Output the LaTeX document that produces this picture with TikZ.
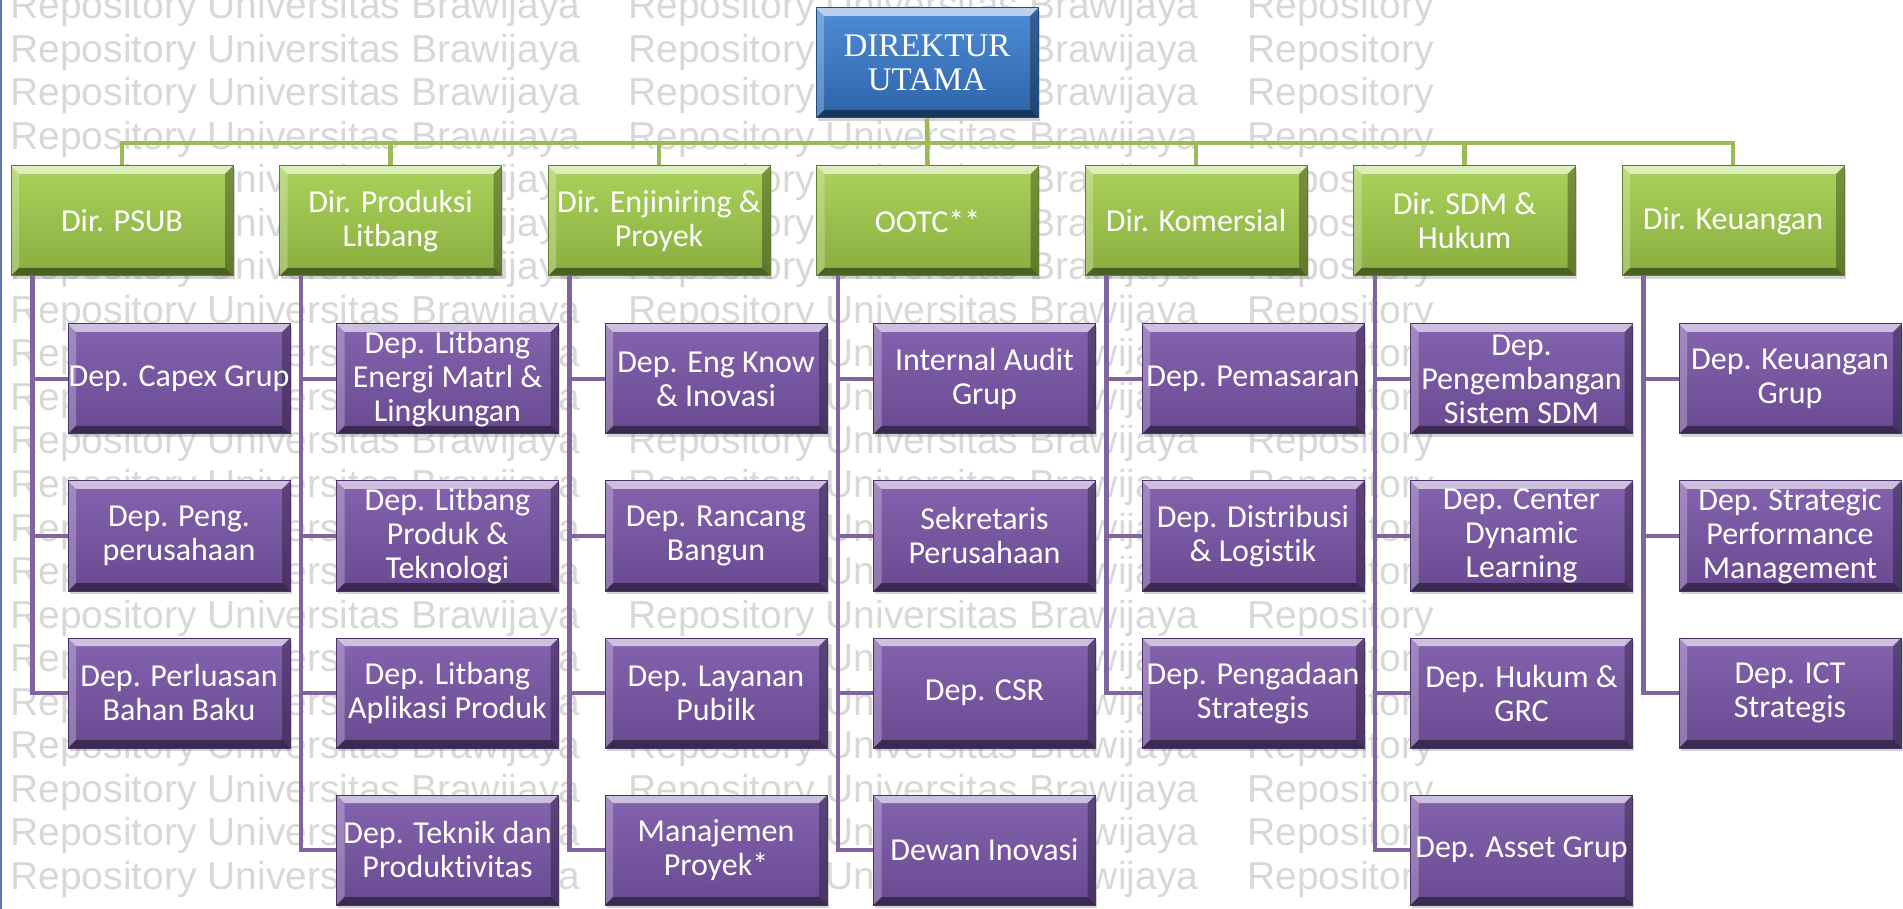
\documentclass[tikz,border=0pt]{standalone}
\usepackage{fontspec}
\setmainfont{Carlito}[Ligatures=NoCommon]
\newfontfamily\serifdir{Liberation Serif}
\newfontfamily\wmfont{Liberation Sans}
\usetikzlibrary{shadows}

\definecolor{grtop}{HTML}{AAD25A}
\definecolor{grbot}{HTML}{88AE3F}
\definecolor{grline}{HTML}{9BBB59}
\definecolor{grrim}{HTML}{5F7F2B}
\definecolor{putop}{HTML}{8563AF}
\definecolor{pubot}{HTML}{694A91}
\definecolor{puline}{HTML}{8064A2}
\definecolor{purim}{HTML}{4A3169}
\definecolor{bltop}{HTML}{4F8DD6}
\definecolor{blbot}{HTML}{2D63A8}
\definecolor{blrim}{HTML}{1F4C82}
\definecolor{wmgray}{HTML}{D8D8D8}
\definecolor{edgeblue}{HTML}{5C79B0}

\tikzset{
  bevel/.style 2 args={path picture={
    \coordinate (pa) at (path picture bounding box.north west); \coordinate (pb) at (path picture bounding box.north east);
    \coordinate (pc) at (path picture bounding box.south east); \coordinate (pd) at (path picture bounding box.south west);
    \fill[#1,opacity=.6] (pa) -- (pb) -- ([shift={(-4pt,-4pt)}]pb) -- ([shift={(4pt,-4pt)}]pa) -- cycle;
    \fill[#1,opacity=.25] (pa) -- (pd) -- ([shift={(4pt,4pt)}]pd) -- ([shift={(4pt,-4pt)}]pa) -- cycle;
    \fill[#2,opacity=.3] (pb) -- (pc) -- ([shift={(-4pt,4pt)}]pc) -- ([shift={(-4pt,-4pt)}]pb) -- cycle;
    \fill[#2,opacity=.45] (pd) -- (pc) -- ([shift={(-4pt,4pt)}]pc) -- ([shift={(4pt,4pt)}]pd) -- cycle;}},
  box/.style={minimum width=111pt,minimum height=55pt,inner sep=0pt,align=center,text=white,
    font=\fontsize{16}{17}\selectfont,line width=.5pt,
    drop shadow={shadow xshift=.8pt,shadow yshift=-1.4pt,opacity=.35}},
  dirbox/.style={box,draw=grrim,top color=grtop,bottom color=grbot,bevel={white}{black}},
  depbox/.style={box,draw=purim,top color=putop,bottom color=pubot,bevel={white}{black}},
  topbox/.style={box,draw=blrim,top color=bltop,bottom color=blbot,bevel={white}{black},
    font=\serifdir\fontsize{16.5}{17}\selectfont},
  gline/.style={grline,line width=2.3pt},
  dline/.style={puline,line width=2.3pt},
  wm/.style={anchor=base west,inner sep=0pt,text=wmgray,font=\wmfont\fontsize{19.5}{20}\selectfont}
}

\begin{document}
\begin{tikzpicture}[x=0.5pt,y=-0.5pt]
  \useasboundingbox (0,0) rectangle (1903,909);
  \foreach \r in {0,...,20} {
    \node[wm] (wma\r) at (10,19+43.5*\r) {Repository Universitas Brawijaya};
    \node[wm] (wmb\r) at (628,19+43.5*\r) {Repository Universitas Brawijaya};
    \node[wm] (wmc\r) at (1247,19+43.5*\r) {Repository};
  }
  \draw[edgeblue,line width=1pt] (1,0) -- (1,909);

  \node[topbox] (dirut) at (927,63) {DIREKTUR\\UTAMA};
  \foreach \n/\t [count=\k from 0] in {psub/{Dir. PSUB},prod/{Dir. Produksi\\Litbang},enj/{Dir. Enjiniring \&\\Proyek},
      ootc/{OOTC**},kom/{Dir. Komersial},sdm/{Dir. SDM \&\\Hukum},keu/{Dir. Keuangan}}
    \node[dirbox] (\n) at (122+268.5*\k,221) {\t};

  \foreach \t [count=\j] in {{Dep. Capex Grup},{Dep. Peng.\\perusahaan},{Dep. Perluasan\\Bahan Baku}}
    \node[depbox] (psub\j) at (179,222+157*\j) {\t};
  \foreach \t [count=\j] in {{Dep. Litbang\\Energi Matrl \&\\Lingkungan},{Dep. Litbang\\Produk \&\\Teknologi},
      {Dep. Litbang\\Aplikasi Produk},{Dep. Teknik dan\\Produktivitas}}
    \node[depbox] (prod\j) at (447.5,222+157*\j) {\t};
  \foreach \t [count=\j] in {{Dep. Eng Know\\\& Inovasi},{Dep. Rancang\\Bangun},{Dep. Layanan\\Pubilk},{Manajemen\\Proyek*}}
    \node[depbox] (enj\j) at (716,222+157*\j) {\t};
  \foreach \t [count=\j] in {{Internal Audit\\Grup},{Sekretaris\\Perusahaan},{Dep. CSR},{Dewan Inovasi}}
    \node[depbox] (ootc\j) at (984.5,222+157*\j) {\t};
  \foreach \t [count=\j] in {{Dep. Pemasaran},{Dep. Distribusi\\\& Logistik},{Dep. Pengadaan\\Strategis}}
    \node[depbox] (kom\j) at (1253,222+157*\j) {\t};
  \foreach \t [count=\j] in {{Dep.\\Pengembangan\\Sistem SDM},{Dep. Center\\Dynamic\\Learning},{Dep. Hukum \&\\GRC},{Dep. Asset Grup}}
    \node[depbox] (sdm\j) at (1521.5,222+157*\j) {\t};
  \foreach \t [count=\j] in {{Dep. Keuangan\\Grup},{Dep. Strategic\\Performance\\Management},{Dep. ICT\\Strategis}}
    \node[depbox] (keu\j) at (1790,222+157*\j) {\t};

  % green bus from the president down to the directors
  \coordinate (bus) at (0,143);
  \draw[gline] (dirut.south) -- (ootc.north);
  \draw[gline] (psub.north) -- (psub.north |- bus) -- (keu.north |- bus) -- (keu.north);
  \foreach \n in {prod,enj,kom,sdm} \draw[gline] (\n.north) -- (\n.north |- bus);

  % purple spines to the departments
  \foreach \c/\m in {psub/3,prod/4,enj/4,ootc/4,kom/3,sdm/4,keu/3} {
    \coordinate (\c-x) at ([xshift=11pt]\c.south west);
    \draw[dline] (\c-x) |- (\c\m.west);
    \foreach \j in {1,...,\m} \draw[dline] (\c\j.west) -- (\c\j.west -| \c-x);
  }
\end{tikzpicture}
\end{document}
